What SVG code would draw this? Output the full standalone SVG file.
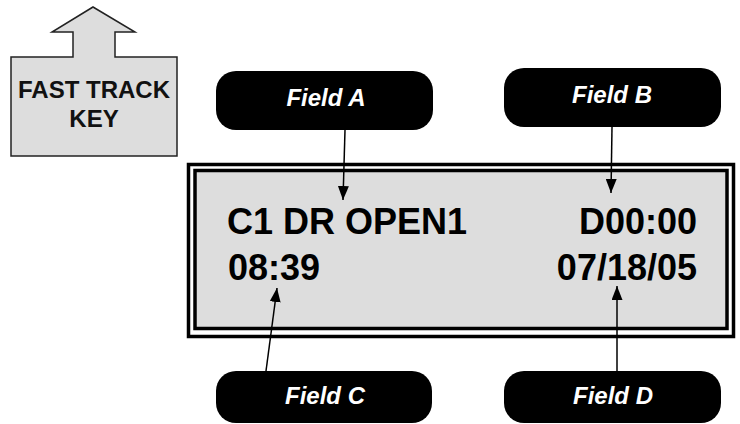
<svg xmlns="http://www.w3.org/2000/svg" width="740" height="424" viewBox="0 0 740 424">
<defs>
<style>
.pill{fill:#000}
.pt{font-family:"Liberation Sans",Arial,sans-serif;font-weight:bold;font-style:italic;font-size:24px;fill:#fff;text-anchor:middle}
.lcd{font-family:"Liberation Sans",Arial,sans-serif;font-weight:bold;font-size:36px;fill:#000}
.key{font-family:"Liberation Sans",Arial,sans-serif;font-weight:bold;font-size:24px;fill:#111;text-anchor:middle}
.conn{stroke:#000;stroke-width:1.5;fill:none}
</style>
<marker id="ah" markerWidth="14" markerHeight="11" viewBox="0 0 14 11" refX="14" refY="5.5" orient="auto" markerUnits="userSpaceOnUse">
<path d="M0,0 L14,5.5 L0,11 Z" fill="#000"/>
</marker>
</defs>
<rect width="740" height="424" fill="#fff"/>
<g id="fast-track-key">
<polygon points="93,7 135,32 115,32 115,57 177,57 177,156 11,156 11,57 73,57 73,32 52,32" fill="#dddddd" stroke="#222" stroke-width="1.5"/>
<text class="key" x="94" y="98">FAST TRACK</text>
<text class="key" x="94" y="127">KEY</text>
</g>
<g id="display">
<rect x="188.5" y="164.5" width="545" height="172" fill="#fff" stroke="#000" stroke-width="3.5"/>
<rect x="195" y="170.5" width="532" height="158" fill="#dddddd" stroke="#000" stroke-width="3.5"/>
<text class="lcd" x="227" y="234">C1 DR OPEN1</text>
<text class="lcd" x="697" y="234" text-anchor="end">D00:00</text>
<text class="lcd" x="228" y="280">08:39</text>
<text class="lcd" x="697" y="280" text-anchor="end">07/18/05</text>
</g>
<g id="field-a">
<rect class="pill" x="216" y="71" width="217" height="59" rx="20"/>
<text class="pt" x="326" y="106">Field A</text>
</g>
<g id="field-b">
<rect class="pill" x="504" y="68" width="217" height="59" rx="20"/>
<text class="pt" x="612" y="103">Field B</text>
</g>
<g id="field-c">
<rect class="pill" x="216" y="371" width="216" height="52" rx="20"/>
<text class="pt" x="325" y="404">Field C</text>
</g>
<g id="field-d">
<rect class="pill" x="504" y="371" width="217" height="52" rx="20"/>
<text class="pt" x="613" y="404">Field D</text>
</g>
<g id="connectors">
<line class="conn" x1="345" y1="130" x2="343" y2="200" marker-end="url(#ah)"/>
<line class="conn" x1="612" y1="127" x2="611" y2="193" marker-end="url(#ah)"/>
<line class="conn" x1="266" y1="371" x2="277" y2="288" marker-end="url(#ah)"/>
<line class="conn" x1="617" y1="371" x2="617" y2="286" marker-end="url(#ah)"/>
</g>
</svg>
